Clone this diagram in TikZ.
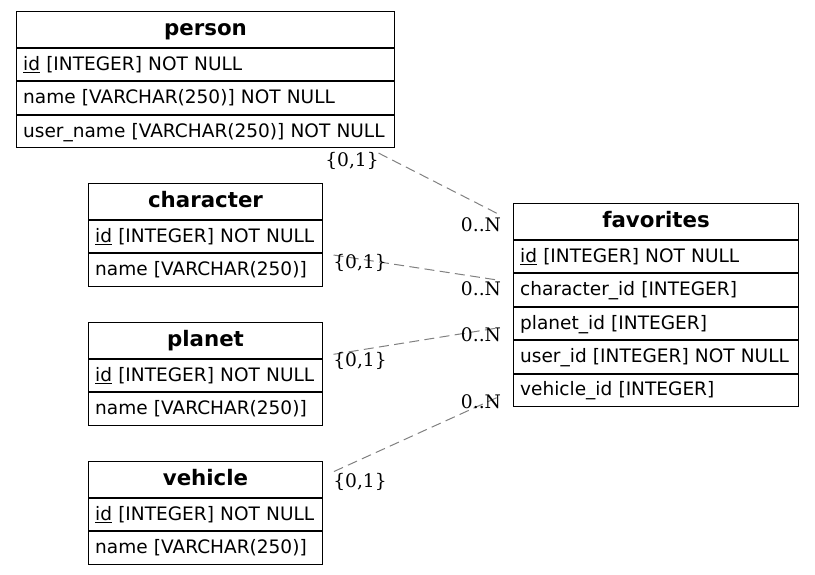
\documentclass[tikz,border=0pt]{standalone}
\usepackage{fontspec}
\setmainfont{DejaVu Sans}
\newfontfamily\cardfont{DejaVu Serif}
\usetikzlibrary{positioning,calc}
\tikzset{
	tabhead/.style={draw, line width=0.75pt, font=\fontsize{16}{19}\selectfont\bfseries, text width=#1, align=center, inner xsep=4.5pt, inner ysep=2pt, minimum height=27pt, text height=12.5pt, text depth=4.25pt, anchor=north west},
	tabrow/.style={draw, line width=0.75pt, font=\fontsize{13.9}{17}\selectfont, text width=#1, align=left, inner xsep=5pt, inner ysep=2pt, minimum height=24.3pt, text height=11.5pt, text depth=3.25pt},
	rel/.style={gray, line width=0.75pt, dash pattern=on 7.5pt off 4pt},
	card/.style={font=\cardfont\fontsize{14}{17}\selectfont, inner sep=0pt},
}
\begin{document}
\begin{tikzpicture}[x=0.75pt, y=-0.75pt]
			\useasboundingbox (0,0) rectangle (815,575);
			\node[tabhead=274.5pt] (person) at (16,11) {person};
			\node[tabrow=273.5pt, below=0pt of person] (pid) {\underline{id} [INTEGER] NOT NULL};
			\node[tabrow=273.5pt, below=0pt of pid] (pname) {name [VARCHAR(250)] NOT NULL};
			\node[tabrow=273.5pt, below=0pt of pname] (puser) {user\_name [VARCHAR(250)] NOT NULL};
			\node[tabhead=166.5pt] (character) at (88,183) {character};
			\node[tabrow=165.5pt, below=0pt of character] (cid) {\underline{id} [INTEGER] NOT NULL};
			\node[tabrow=165.5pt, below=0pt of cid] (cname) {name [VARCHAR(250)]};
			\node[tabhead=166.5pt] (planet) at (88,322) {planet};
			\node[tabrow=165.5pt, below=0pt of planet] (plid) {\underline{id} [INTEGER] NOT NULL};
			\node[tabrow=165.5pt, below=0pt of plid] (plname) {name [VARCHAR(250)]};
			\node[tabhead=166.5pt] (vehicle) at (88,461) {vehicle};
			\node[tabrow=165.5pt, below=0pt of vehicle] (vid) {\underline{id} [INTEGER] NOT NULL};
			\node[tabrow=165.5pt, below=0pt of vid] (vname) {name [VARCHAR(250)]};
			\node[tabhead=204.75pt] (favorites) at (513,203) {favorites};
			\node[tabrow=203.75pt, below=0pt of favorites] (fid) {\underline{id} [INTEGER] NOT NULL};
			\node[tabrow=203.75pt, below=0pt of fid] (fchar) {character\_id [INTEGER]};
			\node[tabrow=203.75pt, below=0pt of fchar] (fplanet) {planet\_id [INTEGER]};
			\node[tabrow=203.75pt, below=0pt of fplanet] (fuser) {user\_id [INTEGER] NOT NULL};
			\node[tabrow=203.75pt, below=0pt of fuser] (fvehicle) {vehicle\_id [INTEGER]};
			\draw[rel, shorten <=8pt, shorten >=11pt] ($(puser.south east)+(-26,0)$) -- (favorites.west);
			\draw[rel, shorten <=8pt, shorten >=10pt] (cname.north east) -- ($(fchar.north west)+(0,9)$);
			\draw[rel, shorten <=8pt, shorten >=10pt] ($(planet.south east)+(0,-3)$) -- ($(fplanet.west)+(0,2)$);
			\draw[rel, shorten <=9pt, shorten >=10.5pt] ($(vehicle.east)+(0,-3)$) -- (fvehicle.west);
			\node[card] (pone) at (352,161) {\{0,1\}};
			\node[card] (pmany) at (481,225) {0..N};
			\node[card] (cone) at (360,263) {\{0,1\}};
			\node[card] (cmany) at (481,289) {0..N};
			\node[card] (plone) at (360,361) {\{0,1\}};
			\node[card] (plmany) at (481,335) {0..N};
			\node[card] (vone) at (360,482) {\{0,1\}};
			\node[card] (vmany) at (481,402) {0..N};
\end{tikzpicture}
\end{document}
